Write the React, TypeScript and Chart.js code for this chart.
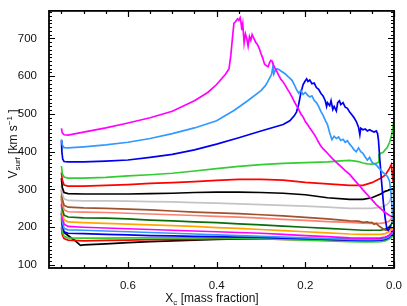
import { useEffect, useRef } from 'react';
import { Chart, registerables } from 'chart.js';

Chart.register(...registerables);

// ---- data (X_c mass fraction, V_surf km/s) ----
const XC_GRID = [0.75, 0.748, 0.744, 0.735, 0.7, 0.65, 0.6, 0.55, 0.5, 0.45, 0.4, 0.35, 0.3, 0.25, 0.2, 0.15, 0.1, 0.07, 0.05, 0.03, 0.02, 0.012, 0.006, 0.002];

const xc01 = [0.75, 0.748, 0.744, 0.735, 0.7, 0.65, 0.6, 0.55, 0.5, 0.45, 0.42, 0.4, 0.38, 0.372, 0.368, 0.364, 0.361, 0.357, 0.353, 0.35, 0.347, 0.345, 0.343, 0.341, 0.338, 0.335, 0.332, 0.329, 0.326, 0.323, 0.32, 0.316, 0.312, 0.308, 0.304, 0.3, 0.296, 0.292, 0.288, 0.284, 0.281, 0.278, 0.275, 0.272, 0.268, 0.264, 0.26, 0.255, 0.25, 0.245, 0.24, 0.235, 0.23, 0.225, 0.22, 0.215, 0.21, 0.205, 0.2, 0.195, 0.19, 0.185, 0.18, 0.175, 0.17, 0.165, 0.16, 0.155, 0.15, 0.14, 0.13, 0.12, 0.11, 0.1, 0.09, 0.08, 0.07, 0.06, 0.05, 0.04, 0.03, 0.02, 0.01, 0.004];
const vs01 = [462, 450, 445, 444, 452, 463, 476, 490, 507, 535, 557, 578, 605, 620, 655, 705, 740, 745, 752, 748, 755, 742, 722, 738, 688, 712, 700, 680, 705, 695, 710, 700, 690, 684, 674, 660, 648, 632, 628, 625, 635, 642, 640, 630, 620, 612, 602, 592, 585, 575, 565, 556, 545, 533, 522, 512, 500, 492, 480, 472, 463, 455, 446, 436, 425, 415, 408, 402, 396, 383, 372, 361, 350, 340, 326, 313, 299, 286, 273, 260, 249, 239, 231, 228];

const xc02 = [0.75, 0.748, 0.744, 0.735, 0.7, 0.65, 0.6, 0.55, 0.5, 0.45, 0.4, 0.36, 0.33, 0.3, 0.29, 0.285, 0.28, 0.276, 0.273, 0.271, 0.268, 0.264, 0.26, 0.255, 0.25, 0.245, 0.24, 0.235, 0.23, 0.225, 0.22, 0.215, 0.21, 0.205, 0.2, 0.195, 0.19, 0.185, 0.18, 0.175, 0.17, 0.165, 0.16, 0.155, 0.15, 0.145, 0.14, 0.135, 0.13, 0.125, 0.12, 0.115, 0.11, 0.105, 0.1, 0.095, 0.09, 0.085, 0.08, 0.075, 0.07, 0.065, 0.06, 0.055, 0.05, 0.045, 0.04, 0.035, 0.03, 0.025, 0.02, 0.015, 0.01, 0.007, 0.004, 0.002];
const vs02 = [433, 418, 411, 410, 413, 418, 425, 435, 448, 463, 482, 510, 535, 562, 575, 585, 596, 605, 626, 606, 615, 620, 618, 614, 610, 606, 600, 595, 589, 578, 565, 555, 562, 552, 557, 550, 545, 548, 536, 530, 520, 507, 497, 483, 472, 450, 432, 441, 435, 439, 430, 433, 425, 429, 420, 413, 405, 400, 410, 400, 396, 386, 378, 385, 373, 368, 365, 358, 352, 345, 340, 335, 322, 292, 245, 212];

const xc03 = [0.75, 0.749, 0.747, 0.744, 0.735, 0.7, 0.65, 0.6, 0.55, 0.5, 0.45, 0.4, 0.35, 0.3, 0.25, 0.235, 0.225, 0.22, 0.215, 0.21, 0.205, 0.2, 0.197, 0.194, 0.19, 0.185, 0.18, 0.175, 0.17, 0.165, 0.16, 0.155, 0.152, 0.15, 0.145, 0.142, 0.138, 0.135, 0.13, 0.127, 0.123, 0.12, 0.115, 0.11, 0.105, 0.1, 0.095, 0.09, 0.085, 0.08, 0.077, 0.075, 0.07, 0.065, 0.06, 0.055, 0.05, 0.045, 0.04, 0.037, 0.035, 0.032, 0.028, 0.024, 0.02, 0.016, 0.013, 0.01, 0.006];
const vs03 = [430, 400, 380, 374, 373, 373, 375, 378, 385, 393, 405, 420, 437, 455, 472, 482, 495, 505, 525, 556, 578, 588, 593, 586, 590, 580, 582, 570, 565, 555, 548, 535, 520, 530, 522, 535, 512, 520, 508, 530, 535, 525, 530, 518, 515, 505, 498, 490, 480, 465, 445, 462, 458, 460, 455, 458, 455, 452, 455, 448, 430, 380, 320, 265, 225, 195, 192, 200, 205];

const xc04 = [0.75, 0.748, 0.744, 0.735, 0.7, 0.65, 0.6, 0.55, 0.5, 0.45, 0.4, 0.35, 0.3, 0.25, 0.2, 0.15, 0.12, 0.1, 0.08, 0.07, 0.06, 0.05, 0.04, 0.036, 0.034, 0.03, 0.025, 0.02, 0.015, 0.01, 0.006, 0.003, 0.001];
const vs04 = [362, 342, 333, 330, 330, 332, 336, 339, 343, 349, 355, 361, 366, 369, 371, 373, 376, 377, 374, 370, 368, 367, 369, 372, 392, 396, 398, 405, 412, 425, 440, 460, 478];

const vs05 = [345, 325, 312, 309, 309, 311, 313, 316, 318, 321, 324, 327, 327, 325, 319, 315, 311, 311, 318, 330, 338, 352, 366, 320];
const vs06 = [330, 305, 292, 289, 288, 288, 288, 289, 290, 292, 293, 293, 292, 290, 286, 278, 274, 274, 278, 288, 295, 298, 301, 302];
const vs07 = [310, 290, 275, 271, 270, 270, 269, 268, 267, 265, 264, 262, 260, 258, 256, 253, 250, 250, 250, 253, 257, 264, 280, 300];

const xc08 = [0.75, 0.748, 0.744, 0.735, 0.7, 0.65, 0.6, 0.55, 0.5, 0.45, 0.4, 0.35, 0.3, 0.25, 0.2, 0.15, 0.1, 0.08, 0.07, 0.06, 0.055, 0.05, 0.045, 0.04, 0.035, 0.03, 0.025, 0.02, 0.015, 0.01, 0.005];
const vs08 = [300, 275, 258, 253, 251, 250, 248, 246, 243, 240, 238, 236, 233, 230, 226, 222, 217, 216, 213, 214, 212, 213, 208, 210, 204, 200, 196, 193, 192, 195, 199];

const vs09 = [288, 262, 246, 241, 240, 239, 237, 235, 233, 231, 229, 227, 224, 221, 218, 215, 213, 211, 210, 210, 212, 215, 222, 228];
const vs10 = [282, 250, 232, 227, 225, 224, 222, 219, 217, 214, 212, 209, 206, 203, 200, 197, 194, 192, 192, 192, 195, 200, 208, 218];
const vs11 = [275, 240, 220, 214, 212, 210, 208, 206, 204, 202, 199, 197, 194, 191, 188, 185, 182, 181, 181, 181, 183, 187, 193, 200];
const vs12 = [262, 228, 208, 202, 200, 198, 196, 194, 192, 190, 188, 186, 184, 181, 178, 175, 172, 171, 171, 172, 174, 178, 185, 193];
const vs13 = [245, 215, 197, 193, 192, 190, 188, 186, 184, 182, 180, 178, 176, 174, 172, 170, 168, 167, 167, 168, 170, 174, 180, 188];
const vs14 = [238, 205, 188, 184, 183, 181, 180, 178, 177, 176, 175, 174, 173, 171, 170, 168, 166, 165, 165, 166, 168, 172, 178, 186];
const vs15 = [225, 190, 176, 172, 171, 171, 172, 172, 172, 172, 172, 171, 170, 168, 166, 164, 162, 161, 161, 162, 164, 168, 172, 178];
const vs16 = [200, 180, 170, 166, 164, 165, 166, 167, 168, 168, 169, 169, 169, 168, 167, 166, 165, 165, 165, 166, 168, 172, 178, 186];

const xc17 = [0.75, 0.745, 0.735, 0.72, 0.707, 0.7, 0.65, 0.6, 0.55, 0.5, 0.45, 0.4, 0.35, 0.3, 0.25, 0.2, 0.15, 0.1, 0.07, 0.05, 0.03, 0.02, 0.012, 0.006, 0.002];
const vs17 = [192, 187, 178, 165, 152, 153, 156, 159, 162, 164, 166, 168, 169, 170, 170, 170, 169, 168, 168, 168, 170, 172, 175, 180, 190];

const X_TICKS = [0, 0.2, 0.4, 0.6];
const Y_TICKS = [100, 200, 300, 400, 500, 600, 700];

const SERIES: { x: number[]; y: number[]; color: string }[] = [
  { x: xc01, y: vs01, color: '#ff00ff' },
  { x: xc02, y: vs02, color: '#3399ff' },
  { x: xc03, y: vs03, color: '#0000ee' },
  { x: xc04, y: vs04, color: '#33cc33' },
  { x: XC_GRID, y: vs05, color: '#ff0000' },
  { x: XC_GRID, y: vs06, color: '#000000' },
  { x: XC_GRID, y: vs07, color: '#c4c4c4' },
  { x: xc08, y: vs08, color: '#a0522d' },
  { x: XC_GRID, y: vs09, color: '#fa8072' },
  { x: XC_GRID, y: vs10, color: '#0a6e0a' },
  { x: XC_GRID, y: vs11, color: '#ffa500' },
  { x: XC_GRID, y: vs12, color: '#ff00ff' },
  { x: XC_GRID, y: vs13, color: '#3399ff' },
  { x: XC_GRID, y: vs14, color: '#0000ee' },
  { x: XC_GRID, y: vs15, color: '#33cc33' },
  { x: XC_GRID, y: vs16, color: '#ff0000' },
  { x: xc17, y: vs17, color: '#000000' },
];

const FONT = "'Liberation Sans', Arial, Helvetica, sans-serif";

type Part = { t: string; size: number; dy: number };

function drawRich(ctx: CanvasRenderingContext2D, parts: Part[]) {
  let total = 0;
  for (const p of parts) {
    ctx.font = `${p.size}px ${FONT}`;
    total += ctx.measureText(p.t).width;
  }
  let cx = -total / 2;
  for (const p of parts) {
    ctx.font = `${p.size}px ${FONT}`;
    ctx.fillText(p.t, cx, p.dy);
    cx += ctx.measureText(p.t).width;
  }
}

const framePlugin = {
  id: 'idlFrame',
  afterDatasetsDraw(chart: any) {
    const { ctx, chartArea: a, scales } = chart;
    const xs = scales.x;
    const ys = scales.y;
    ctx.save();
    ctx.strokeStyle = '#000';
    ctx.lineWidth = 1.2;
    ctx.beginPath();
    for (let i = 0; i <= 15; i++) {
      const v = i * 0.05;
      const px = Math.round(xs.getPixelForValue(v)) + 0.5;
      const len = i % 4 === 0 ? 6 : 3;
      ctx.moveTo(px, a.bottom);
      ctx.lineTo(px, a.bottom - len);
      ctx.moveTo(px, a.top);
      ctx.lineTo(px, a.top + len);
    }
    for (let v = 100; v <= 770; v += 10) {
      const py = Math.round(ys.getPixelForValue(v)) + 0.5;
      const len = v % 100 === 0 ? 6 : 3;
      ctx.moveTo(a.left, py);
      ctx.lineTo(a.left + len, py);
      ctx.moveTo(a.right, py);
      ctx.lineTo(a.right - len, py);
    }
    ctx.stroke();
    ctx.lineWidth = 1.8;
    ctx.strokeRect(a.left, a.top, a.right - a.left, a.bottom - a.top);

    ctx.fillStyle = '#111';
    ctx.textBaseline = 'alphabetic';
    ctx.textAlign = 'left';
    // x title
    ctx.save();
    ctx.translate(212, 302);
    drawRich(ctx, [
      { t: 'X', size: 12, dy: 0 },
      { t: 'c', size: 8, dy: 2.5 },
      { t: ' [mass fraction]', size: 12, dy: 0 },
    ]);
    ctx.restore();
    // y title
    ctx.save();
    ctx.translate(17, 144);
    ctx.rotate(-Math.PI / 2);
    drawRich(ctx, [
      { t: 'V', size: 12, dy: 0 },
      { t: 'surf', size: 8, dy: 2.5 },
      { t: ' [km s', size: 12, dy: 0 },
      { t: '\u22121', size: 8, dy: -5 },
      { t: ' ]', size: 12, dy: 0 },
    ]);
    ctx.restore();
    ctx.restore();
  },
};

export default function App() {
  const ref = useRef<HTMLCanvasElement | null>(null);

  useEffect(() => {
    if (!ref.current) return;
    const chart = new Chart(ref.current, {
      type: 'line',
      data: {
        datasets: SERIES.map((s) => ({
          data: s.x.map((xv, i) => ({ x: xv, y: s.y[i] })),
          borderColor: s.color,
          backgroundColor: s.color,
          borderWidth: 1.7,
          pointRadius: 0,
          tension: 0,
          fill: false,
        })),
      },
      options: {
        responsive: false,
        animation: false,
        events: [],
        layout: { padding: { left: 8, right: 13, top: 9, bottom: 0 } },
        plugins: { legend: { display: false }, tooltip: { enabled: false } },
        scales: {
          x: {
            type: 'linear',
            reverse: true,
            min: 0,
            max: 0.778,
            grid: { display: false },
            border: { display: false },
            afterBuildTicks: (s: any) => {
              s.ticks = X_TICKS.map((v) => ({ value: v }));
            },
            afterFit: (s: any) => {
              s.height = 38;
            },
            ticks: {
              padding: 3,
              color: '#111',
              font: { family: FONT, size: 11.5 },
              maxRotation: 0,
              callback: (v: any) => Number(v).toFixed(1),
            },
          },
          y: {
            type: 'linear',
            min: 92,
            max: 773,
            grid: { display: false },
            border: { display: false },
            afterBuildTicks: (s: any) => {
              s.ticks = Y_TICKS.map((v) => ({ value: v }));
            },
            afterFit: (s: any) => {
              s.width = 41;
            },
            ticks: {
              padding: 4,
              color: '#111',
              font: { family: FONT, size: 11.5 },
              callback: (v: any) => String(v),
            },
          },
        },
      },
      plugins: [framePlugin],
    });
    return () => chart.destroy();
  }, []);

  return (
    <div style={{ position: 'absolute', left: 0, top: 0, width: 407, height: 306, background: '#fff' }}>
      <canvas ref={ref} width={407} height={306} style={{ width: 407, height: 306, display: 'block' }} />
    </div>
  );
}
